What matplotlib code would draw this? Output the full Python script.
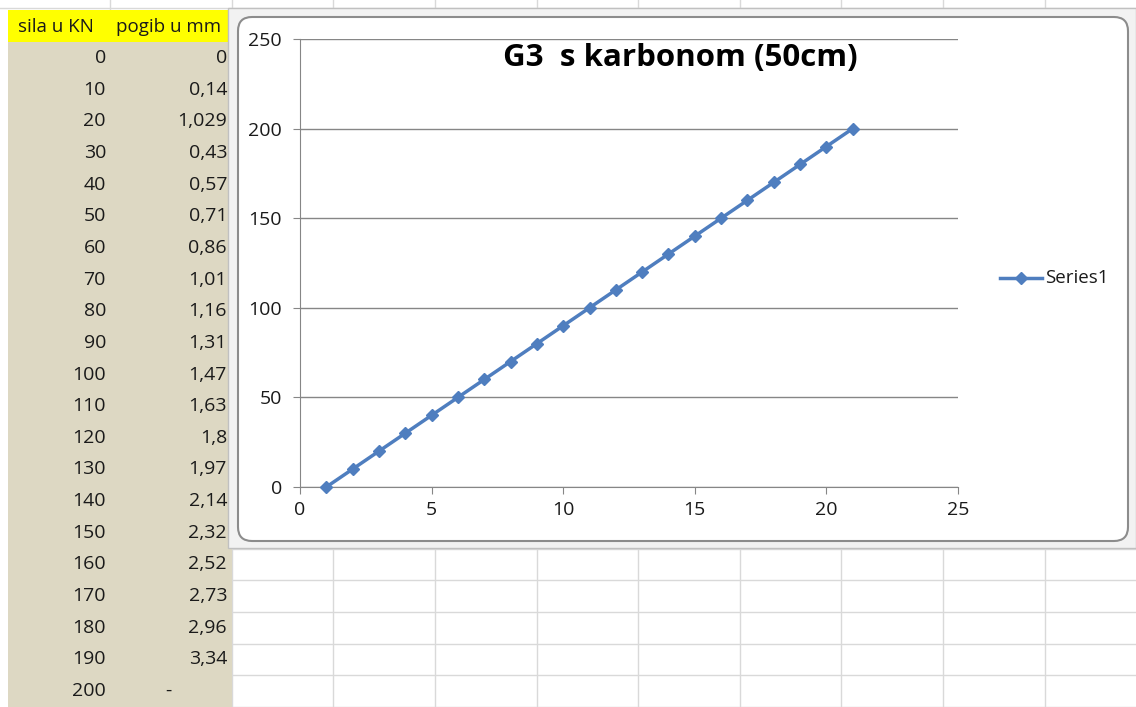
import matplotlib.pyplot as plt
from matplotlib.patches import Rectangle, FancyBboxPatch

plt.rcParams['font.family'] = ['Open Sans', 'DejaVu Sans']

# table data
sila = [0, 10, 20, 30, 40, 50, 60, 70, 80, 90, 100, 110, 120, 130, 140, 150,
        160, 170, 180, 190, 200]
pogib = ["0", "0,14", "1,029", "0,43", "0,57", "0,71", "0,86", "1,01", "1,16",
         "1,31", "1,47", "1,63", "1,8", "1,97", "2,14", "2,32", "2,52", "2,73",
         "2,96", "3,34", "-"]
headers = ["sila u KN", "pogib u mm"]
x_vals = list(range(1, len(sila) + 1))

W, H = 1136, 707
fig = plt.figure(figsize=(W / 100, H / 100), dpi=100)

# background sheet in pixel coordinates
bg = fig.add_axes([0, 0, 1, 1])
bg.set_xlim(0, W)
bg.set_ylim(H, 0)
bg.axis('off')

row_h = 31.65
row0 = 58
grid_c = '#D9D9D9'
txt_c = '#1a1a1a'
fs = 14
# sheet grid lines
for i in range(-1, 22):
    y = row0 + row_h * (i + 0.5)
    bg.plot([232, W], [y, y], color=grid_c, lw=1, zorder=1)
for x in [110, 232, 333, 435, 537, 638, 740, 841, 943, 1045]:
    bg.plot([x, x], [0, H], color=grid_c, lw=1, zorder=1)
bg.plot([0, W], [8, 8], color=grid_c, lw=1, zorder=1)

# table cells
bg.add_patch(Rectangle((8, 10), 224, H - 10, facecolor='#DDD8C3', edgecolor='none', zorder=2))
bg.add_patch(Rectangle((8, 10), 224, 32, facecolor='#FFFF00', edgecolor='none', zorder=3))
bg.text(56, 27, headers[0], ha='center', va='center', fontsize=13.5, color=txt_c, zorder=4)
bg.text(169, 27, headers[1], ha='center', va='center', fontsize=13.5, color=txt_c, zorder=4)
for i, (s, p) in enumerate(zip(sila, pogib)):
    y = row0 + row_h * i
    bg.text(106, y, str(s), ha='right', va='center', fontsize=fs, color=txt_c, zorder=4)
    if p == "-":
        bg.text(168, y, p, ha='center', va='center', fontsize=fs, color=txt_c, zorder=4)
    else:
        bg.text(227, y, p, ha='right', va='center', fontsize=fs, color=txt_c, zorder=4)

# chart frame
bg.add_patch(Rectangle((228, 8), W - 228, 540, facecolor='#F2F2F2', edgecolor='#C0C0C0', lw=1, zorder=5))
bg.add_patch(FancyBboxPatch((238, 17), 890, 524, boxstyle='round,pad=0,rounding_size=14',
                            facecolor='white', edgecolor='#8C8C8C', lw=1.5, zorder=6))
bg.text(680, 58, "G3  s karbonom (50cm)", ha='center', va='center', fontsize=22.5,
        fontweight='bold', color='black', zorder=7)

# legend
blue = '#4F7EBF'
bg.plot([1000, 1042], [278, 278], color=blue, lw=2.5, zorder=7)
bg.plot([1021], [278], marker='D', color=blue, markersize=6.5, zorder=7)
bg.text(1045, 278, "Series1", ha='left', va='center', fontsize=13.5, color=txt_c, zorder=7)

# plot area
ax = fig.add_axes([300 / W, (H - 487) / H, 658 / W, 448 / H], zorder=10)
ax.patch.set_alpha(0)
ax.plot(x_vals, sila, color=blue, lw=2.5, marker='D', markersize=6.5, zorder=5, clip_on=False)
ax.set_xlim(0, 25)
ax.set_ylim(0, 250)
ax.set_xticks(range(0, 26, 5))
ax.set_yticks(range(0, 251, 50))
ax.yaxis.grid(True, color='#868686', lw=1)
ax.set_axisbelow(True)
for side in ['top', 'right']:
    ax.spines[side].set_visible(False)
for side in ['left', 'bottom']:
    ax.spines[side].set_color('#868686')
ax.tick_params(colors='#868686', length=5, labelcolor=txt_c, labelsize=fs)
ax.tick_params(axis='y', pad=8)
ax.tick_params(axis='x', pad=5)

fig.savefig('out.png', dpi=100)
